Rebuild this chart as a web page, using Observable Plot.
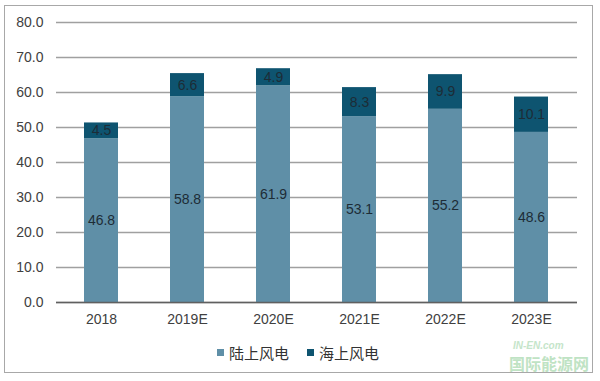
<!DOCTYPE html>
<html><head><meta charset="utf-8">
<script src="https://cdn.jsdelivr.net/npm/d3@7"></script>
<script src="https://cdn.jsdelivr.net/npm/@observablehq/plot@0.6"></script>
<style>
body{margin:0;background:#fff;font-family:"Liberation Sans",Arial,sans-serif;}
#wrap{position:relative;width:600px;height:381px;overflow:hidden;}
#border{position:absolute;left:4px;top:5px;width:587px;height:366px;border:1.5px solid #a8a8a8;}
#chart{position:absolute;left:0;top:0;}
#legend{position:absolute;top:342px;left:0;width:600px;height:20px;font-family:"Noto Sans CJK SC",sans-serif;font-size:15px;color:#333;}
.item{position:absolute;top:0;display:flex;align-items:center;height:20px;}
.sw{width:7px;height:7px;margin-right:5px;}
#wm1{position:absolute;left:513px;top:340px;font-size:10px;line-height:11px;font-weight:bold;font-style:italic;color:#c5e5ca;}
#wm2{position:absolute;left:509px;top:354px;font-family:"Noto Sans CJK SC",sans-serif;font-size:16px;line-height:18px;font-weight:bold;color:#bfe3c4;}
</style></head><body>
<div id="wrap"><div id="border"></div><div id="chart"></div><div id="legend"></div>
<div id="wm1">IN-EN.com</div><div id="wm2">国际能源网</div>
</div>
<script>
const years = ["2018","2019E","2020E","2021E","2022E","2023E"];
const series = ["陆上风电","海上风电"];
const onshore = [46.8,58.8,61.9,53.1,55.2,48.6];
const offshore = [4.5,6.6,4.9,8.3,9.9,10.1];
const colors = ["#5f8fa7","#0e5470"];
const yTicks = [0,10,20,30,40,50,60,70,80];

const data = [];
years.forEach((y,i)=>{
  data.push({year:y,type:series[0],value:onshore[i]});
  data.push({year:y,type:series[1],value:offshore[i]});
});

const plot = Plot.plot({
  width:600, height:340,
  marginTop:22, marginBottom:38, marginLeft:56, marginRight:23,
  style:{fontFamily:"Liberation Sans, Arial, sans-serif", fontSize:"14px", color:"#404040", background:"transparent"},
  x:{domain:years, paddingInner:0.6, paddingOuter:0.3, label:null, tickSize:0, tickPadding:12},
  y:{domain:[0,80], ticks:yTicks, label:null, tickSize:0, tickPadding:13, tickFormat:d=>d.toFixed(1)},
  color:{domain:series, range:colors},
  marks:[
    Plot.gridY(yTicks,{stroke:"#a0a0a0",strokeOpacity:1,strokeWidth:1.3}),
    Plot.barY(data, Plot.stackY({x:"year", y:"value", fill:"type", z:"type", order:series})),
    Plot.ruleY([0],{stroke:"#606060",strokeWidth:1.5}),
    Plot.text(data, Plot.stackY({x:"year", y:"value", z:"type", order:series, text:d=>d.value.toFixed(1), fill:"#1d2c36", fontSize:14}))
  ]
});
document.getElementById("chart").appendChild(plot);

const leg = document.getElementById("legend");
const lefts = [217,307];
series.forEach((s,i)=>{
  const it = document.createElement("div");
  it.className="item"; it.style.left=lefts[i]+"px";
  const sw=document.createElement("div"); sw.className="sw"; sw.style.background=colors[i];
  const t=document.createElement("span"); t.textContent=s;
  it.appendChild(sw); it.appendChild(t); leg.appendChild(it);
});
</script></body></html>
